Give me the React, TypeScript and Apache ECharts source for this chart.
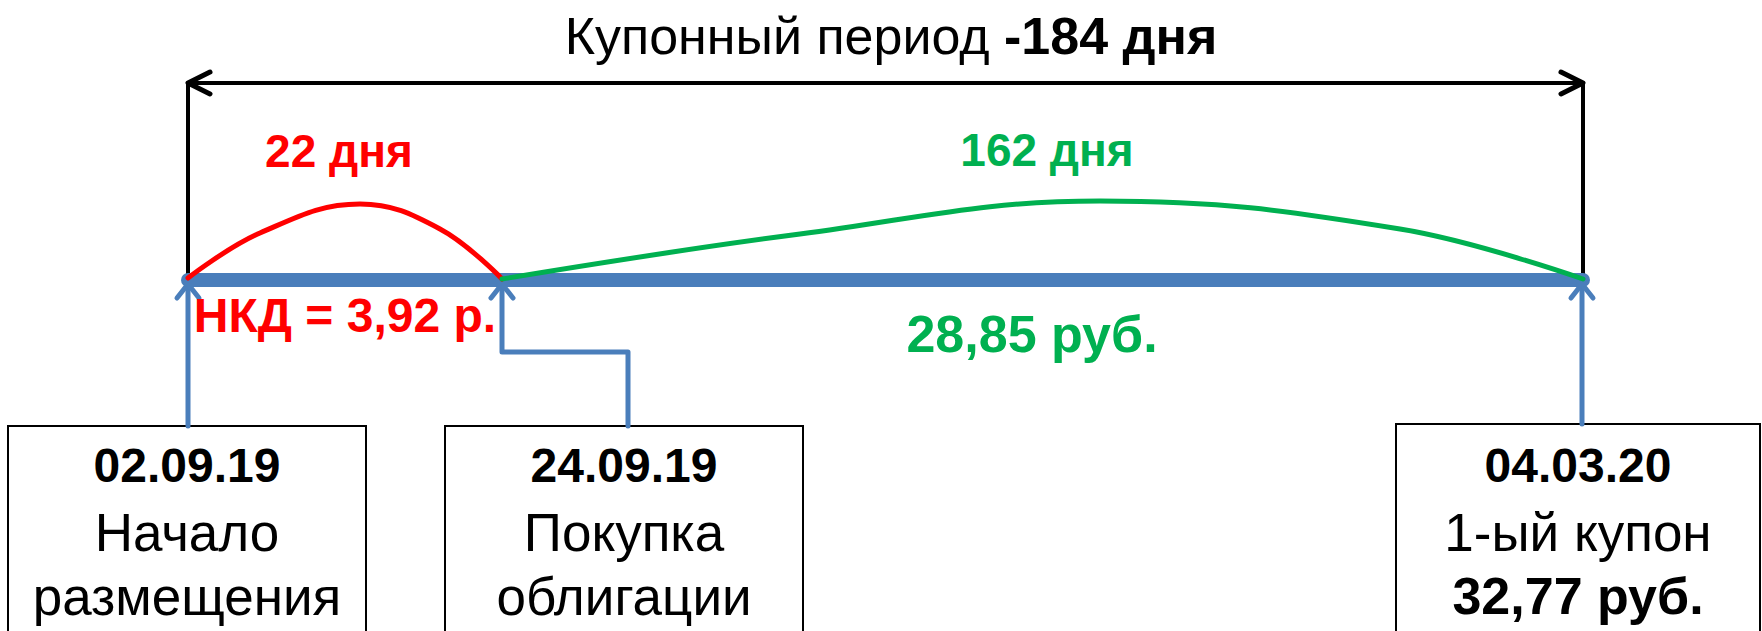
import React, { useEffect, useRef } from "react";
import * as echarts from "echarts";

// ---- content ----
const titleRegular = "Купонный период ";
const titleBold = "-184 дня";
const periodLabels = ["22 дня", "162 дня"];
const amountLabels = ["НКД = 3,92 р.", "28,85 руб."];
const dates = ["02.09.19", "24.09.19", "04.03.20"];
const eventLines = [["Начало", "размещения"], ["Покупка", "облигации"], ["1-ый купон"]];
const couponAmount = "32,77 руб.";

// ---- diagram geometry (diagram units on hidden axes) ----
const timeline = [[188, 280], [1583, 280]];
const spanTop = [[188, 83], [1583, 83]];
const spanLeft = [[188, 83], [188, 280]];
const spanRight = [[1583, 83], [1583, 280]];
const spanHeadL = [[210, 72], [188, 83], [210, 94]];
const spanHeadR = [[1561, 72], [1583, 83], [1561, 94]];
const redArc = [[188, 278], [260, 233], [360, 204], [440, 229], [502, 279]];
const greenArc = [[502, 279], [800, 234], [1100, 201], [1400, 229], [1583, 279]];
const conn1 = [[188, 426], [188, 284]];
const conn2 = [[628, 426], [628, 352], [502, 352], [502, 284]];
const conn3 = [[1582, 424], [1582, 284]];
const head1 = [[177, 298], [188, 284], [199, 298]];
const head2 = [[491, 298], [502, 284], [513, 298]];
const head3 = [[1571, 298], [1582, 284], [1593, 298]];

const FONT = "'Liberation Sans', Arial, sans-serif";
const RED = "#ff0000";
const GREEN = "#00b050";
const BLUE = "#4a7ebb";

function lineSeries(data: number[][], color: string, width: number, smooth: boolean | number = false, z = 2) {
  return {
    type: "line",
    data,
    symbol: "none",
    smooth,
    silent: true,
    z,
    lineStyle: { color, width, cap: "round", join: "round" },
  };
}

export default function App() {
  const ref = useRef<HTMLDivElement>(null);
  useEffect(() => {
    const chart = echarts.init(ref.current!, null, { renderer: "svg" });
    const boxes = [
      { x: 8, w: 358, y: 426 },
      { x: 445, w: 358, y: 426 },
      { x: 1396, w: 364, y: 424 },
    ];
    const baselinesMid = [465, 532, 596];
    const graphics: any[] = [];
    boxes.forEach((b, i) => {
      graphics.push({
        type: "rect",
        shape: { x: b.x, y: b.y, width: b.w, height: 260 },
        style: { fill: "#fff", stroke: "#000", lineWidth: 2 },
        z: 1,
      });
      const cx = b.x + b.w / 2;
      const lines: { t: string; bold: boolean; fs: number }[] = [{ t: dates[i], bold: true, fs: 48 }];
      eventLines[i].forEach((t) => lines.push({ t, bold: false, fs: 53 }));
      if (i === 2) lines.push({ t: couponAmount, bold: true, fs: 52 });
      lines.forEach((ln, k) => {
        graphics.push({
          type: "text",
          x: cx,
          y: baselinesMid[k],
          z: 3,
          style: {
            text: ln.t,
            fill: "#000",
            font: `${ln.bold ? "bold " : ""}${ln.fs}px ${FONT}`,
            align: "center",
            verticalAlign: "middle",
          },
        });
      });
    });
    graphics.push({
      type: "text",
      x: 891,
      y: 36,
      z: 3,
      style: {
        text: `{a|${titleRegular}}{b|${titleBold}}`,
        align: "center",
        verticalAlign: "middle",
        rich: {
          a: { fontFamily: FONT, fontSize: 52, fill: "#000", color: "#000" },
          b: { fontFamily: FONT, fontSize: 52, fontWeight: "bold", fill: "#000", color: "#000" },
        },
      },
    });
    const labelSpecs = [
      { t: periodLabels[0], x: 339, y: 151, c: RED, fs: 46 },
      { t: periodLabels[1], x: 1047, y: 150, c: GREEN, fs: 46 },
      { t: amountLabels[0], x: 345, y: 315, c: RED, fs: 48 },
      { t: amountLabels[1], x: 1032, y: 334, c: GREEN, fs: 52 },
    ];
    labelSpecs.forEach((s) =>
      graphics.push({
        type: "text",
        x: s.x,
        y: s.y,
        z: 3,
        style: {
          text: s.t,
          fill: s.c,
          font: `bold ${s.fs}px ${FONT}`,
          align: "center",
          verticalAlign: "middle",
        },
      })
    );

    chart.setOption({
      animation: false,
      backgroundColor: "#fff",
      grid: { left: 0, right: 0, top: 0, bottom: 0 },
      xAxis: { type: "value", min: 0, max: 1762, show: false },
      yAxis: { type: "value", min: 0, max: 631, inverse: true, show: false },
      series: [
        lineSeries(spanTop, "#000", 4),
        lineSeries(spanLeft, "#000", 4),
        lineSeries(spanRight, "#000", 4),
        lineSeries(spanHeadL, "#000", 5),
        lineSeries(spanHeadR, "#000", 5),
        lineSeries(timeline, BLUE, 14, false, 3),
        lineSeries(conn1, BLUE, 5),
        lineSeries(conn2, BLUE, 5),
        lineSeries(conn3, BLUE, 5),
        lineSeries(head1, BLUE, 5),
        lineSeries(head2, BLUE, 5),
        lineSeries(head3, BLUE, 5),
        lineSeries(redArc, RED, 5, 0.4, 4),
        lineSeries(greenArc, GREEN, 5, 0.4, 4),
      ],
      graphic: graphics,
    });
    return () => chart.dispose();
  }, []);
  return (
    <div
      ref={ref}
      style={{ position: "fixed", left: 0, top: 0, width: 1762, height: 631, background: "#fff" }}
    />
  );
}
